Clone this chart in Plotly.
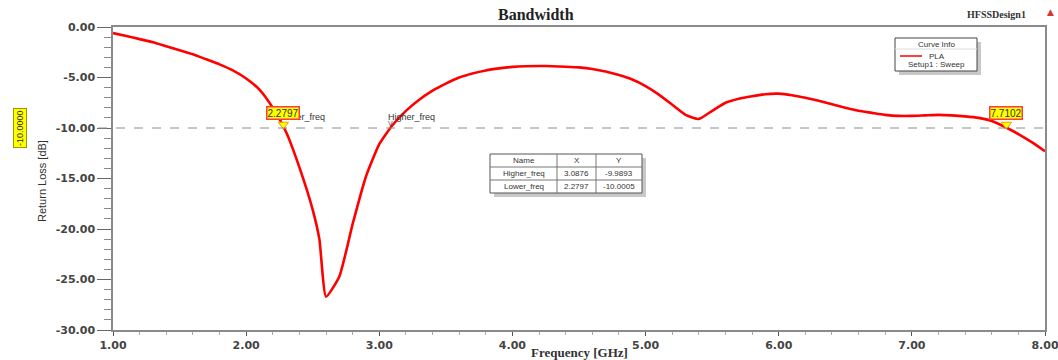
import plotly.graph_objects as go

# S11 sweep of the PLA antenna (Setup1 : Sweep)
freq_ghz = [1.0, 1.1, 1.2, 1.3, 1.4, 1.5, 1.6, 1.7, 1.8, 1.9,
            2.0, 2.1, 2.2, 2.3, 2.4, 2.5, 2.55, 2.6, 2.7, 2.8,
            2.9, 3.0, 3.1, 3.2, 3.3, 3.4, 3.5, 3.6, 3.7, 3.8,
            3.9, 4.0, 4.1, 4.2, 4.3, 4.4, 4.5, 4.6, 4.7, 4.8,
            4.9, 5.0, 5.1, 5.2, 5.3, 5.4, 5.5, 5.6, 5.7, 5.8,
            5.9, 6.0, 6.1, 6.2, 6.3, 6.4, 6.5, 6.6, 6.7, 6.8,
            6.9, 7.0, 7.1, 7.2, 7.3, 7.4, 7.5, 7.6, 7.7, 7.8,
            7.9, 8.0]
return_loss_db = [-0.6, -0.9, -1.2, -1.5, -1.9, -2.3, -2.7, -3.2, -3.7, -4.3,
                  -5.1, -6.2, -8.0, -10.4, -13.9, -18.1, -21.0, -26.7, -24.7, -19.5,
                  -14.8, -11.6, -9.7, -8.3, -7.2, -6.3, -5.6, -5.0, -4.6, -4.3,
                  -4.1, -3.95, -3.88, -3.86, -3.88, -3.93, -4.0, -4.15, -4.4, -4.75,
                  -5.2, -5.85, -6.7, -7.7, -8.7, -9.1, -8.3, -7.5, -7.1, -6.85,
                  -6.65, -6.6, -6.75, -7.0, -7.3, -7.65, -8.0, -8.3, -8.5, -8.7,
                  -8.8, -8.8, -8.75, -8.7, -8.75, -8.85, -9.0, -9.3, -9.9, -10.6,
                  -11.4, -12.3]

# -10 dB bandwidth markers
threshold_db = -10.0
marker_names = ["Higher_freq", "Lower_freq"]
marker_x = [3.0876, 2.2797]
marker_y = [-9.9893, -10.0005]
end_marker_x = 7.7102
end_marker_y = -10.0

x_ticks = [1, 2, 3, 4, 5, 6, 7, 8]
y_ticks = [0, -5, -10, -15, -20, -25, -30]

W, H = 1058, 360
L, R, T, B = 113, 13, 27, 30
PW, PH = W - L - R, H - T - B


def px(xp):
    return (xp - L) / PW


def py(yp):
    return (H - B - yp) / PH


AXIS = "#8a8a8a"
TICKFONT = dict(family="DejaVu Sans", size=11, color="#444444", weight="bold")

fig = go.Figure()

fig.add_trace(go.Scatter(
    x=freq_ghz, y=return_loss_db, mode="lines",
    line=dict(color="#ff0000", width=2.6, shape="spline", smoothing=0.5),
    name="PLA", showlegend=False, hoverinfo="skip",
))

# yellow pointer triangles at the crossing markers
fig.add_trace(go.Scatter(
    x=[marker_x[1], end_marker_x], y=[marker_y[1] + 0.35, end_marker_y + 0.35],
    mode="markers",
    marker=dict(symbol="triangle-down", size=9, color="#ffff00",
                line=dict(color="#e8a000", width=1)),
    showlegend=False, hoverinfo="skip",
))

fig.update_layout(
    width=W, height=H,
    margin=dict(l=L, r=R, t=T, b=B),
    paper_bgcolor="white", plot_bgcolor="white",
    xaxis=dict(
        range=[1, 8], tickvals=x_ticks, automargin=False, ticklabeloverflow="allow",
        ticktext=[f"{v:.2f}" for v in x_ticks],
        showgrid=False, zeroline=False,
        showline=True, linecolor=AXIS, linewidth=1.5, mirror=True,
        ticks="outside", ticklen=4, tickcolor="#555555", tickwidth=1.2,
        minor=dict(dtick=0.2, ticks="outside", ticklen=3, tickcolor="#aaaaaa"),
        tickfont=TICKFONT,
    ),
    yaxis=dict(
        range=[-30, 0], tickvals=y_ticks, automargin=False, ticklabeloverflow="allow",
        ticktext=[f"{v:.2f}" for v in y_ticks],
        showgrid=False, zeroline=False,
        showline=True, linecolor=AXIS, linewidth=1.5, mirror=True,
        ticks="outside", ticklen=14, tickcolor="#666666", tickwidth=1.2,
        minor=dict(dtick=1, ticks="outside", ticklen=7, tickcolor="#888888"),
        tickfont=TICKFONT,
    ),
)

shapes = []
ann = []


def text_at(text, xp, yp, size=8, family="Liberation Sans", color="#333333", **kw):
    ann.append(dict(text=text, x=px(xp), y=py(yp), xref="paper", yref="paper",
                    xanchor=kw.pop("xanchor", "center"), yanchor=kw.pop("yanchor", "middle"),
                    showarrow=False, font=dict(family=family, size=size, color=color), **kw))


# -10 dB reference line
shapes.append(dict(type="line", xref="paper", yref="y", x0=px(98), x1=1,
                   y0=threshold_db, y1=threshold_db,
                   line=dict(color="#8c8c8c", width=1, dash="dash")))

# titles
text_at("<b>Bandwidth</b>", 536, 15, size=16, family="Liberation Serif", color="#222222")
text_at("<b>HFSSDesign1</b>", 996, 15, size=10, family="Liberation Serif")
text_at("▲", 1050, 12, size=9, family="DejaVu Sans", color="#e03030")
text_at("<b>Frequency [GHz]</b>", 579, 352, size=13, family="Liberation Serif")
text_at("Return Loss [dB]", 42, 181, size=11,
        family="Liberation Sans Narrow, Liberation Sans", textangle=-90)
ann.append(dict(text="-10.0000", x=px(20), y=threshold_db, xref="paper", yref="y",
                xanchor="center", yanchor="middle",
                textangle=-90, showarrow=False, bgcolor="#ffff00", bordercolor="#9a9a00",
                borderwidth=1, borderpad=1,
                font=dict(family="Liberation Sans", size=9, color="#333333")))

# marker name labels
for name, mx, my in zip(marker_names, marker_x, marker_y):
    ann.append(dict(text=name, x=mx, y=my, xref="x", yref="y", xanchor="left",
                    yanchor="bottom", xshift=-5, yshift=4, showarrow=False,
                    font=dict(family="Liberation Sans", size=9, color="#333333")))
ann.append(dict(text="V", x=marker_x[0], y=marker_y[0], xref="x", yref="y",
                xanchor="center", yanchor="bottom", yshift=-1, showarrow=False,
                font=dict(family="Liberation Sans", size=7, color="#555555")))

# marker value boxes
for vx, vy in [(marker_x[1], marker_y[1]), (end_marker_x, end_marker_y)]:
    ann.append(dict(text=f"{vx:.4f}", x=vx, y=vy, xref="x", yref="y",
                    xanchor="center", yanchor="bottom", yshift=8, showarrow=False,
                    bgcolor="#ffff00", bordercolor="#ff3b3b", borderwidth=1.5, borderpad=0,
                    font=dict(family="Liberation Sans", size=10, color="#333333")))


def rect(x0, y0, x1, y1, **kw):
    shapes.append(dict(type="rect", xref="paper", yref="paper",
                       x0=px(x0), x1=px(x1), y0=py(y0), y1=py(y1), layer="above", **kw))


def hline(x0, x1, y, color, width=1):
    shapes.append(dict(type="line", xref="paper", yref="paper", x0=px(x0), x1=px(x1),
                       y0=py(y), y1=py(y), line=dict(color=color, width=width), layer="above"))


# marker table
tx = [490, 557, 596, 642]
ty = [154, 167, 180, 193]
rect(tx[0] + 4, ty[0] + 4, tx[-1] + 4, ty[-1] + 4, fillcolor="#c8c8c8", line=dict(width=0))
rect(tx[0], ty[0], tx[-1], ty[-1], fillcolor="white", line=dict(color="#555555", width=1))
for xx in tx[1:-1]:
    shapes.append(dict(type="line", xref="paper", yref="paper", x0=px(xx), x1=px(xx),
                       y0=py(ty[0]), y1=py(ty[-1]), line=dict(color="#777777", width=1), layer="above"))
for yy in ty[1:-1]:
    hline(tx[0], tx[-1], yy, "#777777")
rows = [["Name", "X", "Y"]] + [[n, f"{x:.4f}", f"{y:.4f}"] for n, x, y in zip(marker_names, marker_x, marker_y)]
for r, row in enumerate(rows):
    for c, cell in enumerate(row):
        text_at(cell, (tx[c] + tx[c + 1]) / 2, (ty[r] + ty[r + 1]) / 2)

# curve info box
bx0, bx1, by0, by1 = 895, 977, 38, 71
rect(bx0 + 4, by0 + 4, bx1 + 4, by1 + 4, fillcolor="#c8c8c8", line=dict(width=0))
rect(bx0, by0, bx1, by1, fillcolor="white", line=dict(color="#444444", width=1))
hline(bx0, bx1, 49, "#dddddd")
hline(900, 922, 56, "#ff0000", 1.5)
text_at("Curve Info", 936, 44)
text_at("PLA", 937, 56)
text_at("Setup1 : Sweep", 936, 65)

fig.update_layout(shapes=shapes, annotations=ann)
fig.write_html("out.html",
               post_script="document.body.style.margin='0';"
                           "document.documentElement.style.overflow='hidden';")
